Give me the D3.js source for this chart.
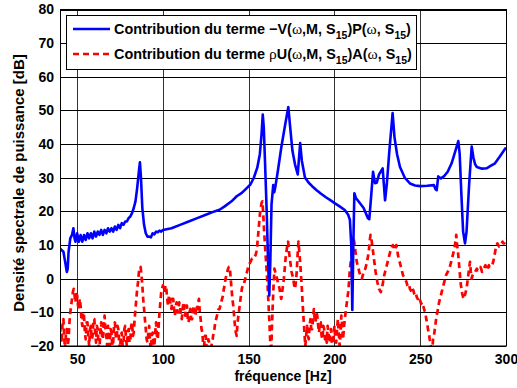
<!DOCTYPE html>
<html><head><meta charset="utf-8">
<script src="https://cdn.jsdelivr.net/npm/d3@7"></script>
<style>body{margin:0;background:#fff}svg{display:block}</style>
</head><body>
<script>
const xTicks = [50,100,150,200,250,300];
const yTicks = [-20,-10,0,10,20,30,40,50,60,70,80];

const blueFreq = [40,41,42,43,44,44.5,45,46,47,47.8,48.5,49,50,51,52,53,54,55,56,57,58,59,60,61,62,63,64,65,66,67,68,69,70,71,72,73,74,75,76,77,78,79,80,81,82,83,84,85,86,86.6,87.2,88,89,90,91,92,93,94,95,96,97,98,99,100,105,110,115,120,125,130,133,136,140,143,146,149,151,153,155,156.5,157.5,158.2,158.8,159.5,160.5,161.3,162,162.6,163.3,164.3,164.9,165.6,167,169,171,173.1,174,175.5,177,178.6,180,181,182.8,185,187,189.6,192,195,198,200.3,203,206,208,209,209.8,210.4,211,211.6,212.5,214.9,217,219.5,220.3,221,222.5,223.6,224.6,226,228.1,228.8,229.5,230.5,232,233.9,235,236.5,238.2,241,244,247,250,254,258,259,259.6,260.5,262,264,266,268.3,270.5,272.2,273,274,275,276.1,277,278.5,280,281,282,283,286,288.7,291,293.6,296,298,300];
const blueDb = [9,8.5,8,5,2,3,8,12,13,15,12,11,13.5,11,13,11,13,11.5,13.5,12,13.5,12,14,12.5,14,13,14.5,13,14.5,13.5,15,14,15,14,15.5,14.5,16,15,16.5,16,17,17,18,18.5,19.5,21,23,27,32,34.6,30,21,16,13.5,12.5,12.5,12.3,13.5,13.2,14,13.8,14.3,14,14.5,15,16,17,18,19,20,20.5,21.5,23,24.5,25.5,27,28,30,33,37,43,48.8,45,35,20,5,-5,5,22,27.8,25.7,27.5,32,39,45,51,46,38,34,31,40.3,35,30.1,28.5,27.5,26.3,25.3,24.2,23.2,22.4,21.5,20.4,19,17.5,10,-9.3,10,25.4,24,22.4,21,18,17.7,22,31.8,28.4,28.5,31,32.8,28,23.3,28,38,49.2,42,37,33.2,30,28.3,27.7,27.5,27.6,27.8,26.5,26.3,30.4,29.8,30.5,31.8,34.3,38,40.9,37,25,14,10.5,14,28,39.3,36,34,33.2,32.7,32.8,33.5,34.3,36,37.5,39];

const redFreq = d3.range(40, 300.5, 0.5);
const redDb = [
-14,-17,-19,-13,-12,-18,-21,-16,-15,-20,
-18,-13,-10,-8,-6,-4,-3,-5,-7,-4,
-5,-8,-9,-6,-8,-12,-14,-10,-11,-16,
-18,-13,-13,-17,-20,-15,-14,-18,-17,-12,
-12,-16,-19,-14,-15,-20,-21,-16,-13,-17,
-18,-14,-11,-15,-17,-20,-14,-18,-20,-15,
-16,-20,-19,-14,-13,-17,-18,-14,-15,-19,
-21,-17,-16,-20,-19,-15,-14,-18,-20,-16,
-15,-19,-18,-14,-13,-17,-16,-12,-9,-6,
-3,-1,2,3,3.5,1,-2,-6,-9,-12,
-15,-18,-19,-16,-14,-19,-21,-17,-16,-20,
-20,-16,-13,-17,-18,-14,-10,-7,-4,-3,
-2,-3,-4,-2,-3,-6,-8,-5,-5,-8,
-9,-6,-6,-9,-11,-8,-7,-10,-10,-7,
-8,-11,-12,-9,-7,-10,-11,-8,-8,-12,
-13,-10,-9,-12,-12,-9,-8,-11,-11,-8,
-9,-7,-6,-10,-12,-15,-16,-20,-20,-17,
-17,-21,-22,-18,-19,-22,-22,-19,-18,-16,
-15,-13,-12,-11,-10,-9,-9,-8,-7,-6,
-5,-3,-2,0,1,2,3,3.5,3.5,0,
-3,-6,-8,-11,-14,-16,-17,-13,-11,-9,
-7,-5,-3,-2,-2,-1,0,1,2,3,
4,4.5,5,5.5,6,6,6.5,6.5,7,8,
10,13,16,19,21,22.5,23,19,14,10,
6,2,-2,-7,-12,-18,-25,-15,-8,-2,
3,2,1,0,-1,-2,-3,-5,-6,-4,
-2,0,3,6,8,10,11,8,6,4,
2,1,0,-2,-3,-1,2,7,11,8,
5,1,-3,-8,-12,-16,-20,-17,-14,-17,
-18,-14,-12,-15,-15,-12,-9,-12,-13,-10,
-11,-14,-16,-13,-13,-17,-18,-14,-15,-18,
-17,-19,-14,-16,-19,-17,-15,-19,-21,-17,
-14,-18,-19,-15,-12,-16,-20,-17,-11,-14,
-18,-15,-12,-10,-8,-6,-4,-1,3,5,
6,9,12,11,9,7,5,4,3,2,
1,0.5,0,1,2,2.5,3,4,5,6.5,
8,11,13,12,10,8,6,4,2,0.5,
-1,-2,-3,-3.5,-4,-3,-2,-0.5,1,2,
3,4,5,6,7,8,9,9.5,10,9.5,
8.5,9,10,9,7,6,5,4,3,2,
1,0.5,0,-0.5,-1,-2,-2.5,-2,-3,-3.5,
-4,-3,-3.5,-4.5,-5,-4.5,-5.5,-6,-6,-5.5,
-6.5,-7.5,-7,-8,-8.5,-9.5,-10,-12,-13,-15,
-16,-18,-19,-21,-21,-18,-17,-15,-13,-11,
-10,-8.5,-7,-6,-5,-4,-3,-2,-1,0,
1,1.5,2,2.5,3,4,5,6,7,8,
9,11,13,10,8,5,2,-1,-3,-4.5,
-5.5,-6,-5,-4,-3,-1,1,3,5,2,
0,1,1.5,2,2,2.5,3,2.5,2.5,3,
3.5,3,2,2.5,3,3.5,4,3,2.5,3.5,
4,3.5,3.5,4,4,5,6,7.5,9,10,
10.5,10,9.5,9.5,10,10.5,11,10.5,10.5,11,
12];

const W = 517, H = 388;
const m = {left: 60, right: 506, top: 9.5, bottom: 346};
const x = d3.scaleLinear().domain([40, 300]).range([m.left, m.right]);
const y = d3.scaleLinear().domain([-20, 80]).range([m.bottom, m.top]);
const FONT = "'Liberation Sans', Arial, Helvetica, sans-serif";

const svg = d3.select("body").append("svg").attr("width", W).attr("height", H)
  .style("font-family", FONT);

svg.append("defs").append("clipPath").attr("id", "clip")
  .append("rect").attr("x", m.left).attr("y", m.top)
  .attr("width", m.right - m.left).attr("height", m.bottom - m.top);

// grid
const grid = svg.append("g");
grid.selectAll(".vx").data(xTicks).join("line")
  .attr("x1", d => Math.round(x(d)) + 0.5).attr("x2", d => Math.round(x(d)) + 0.5)
  .attr("y1", m.top).attr("y2", m.bottom)
  .attr("stroke", "#333").attr("stroke-width", 1);
grid.selectAll(".hy").data(yTicks).join("line")
  .attr("y1", d => Math.round(y(d)) + 0.5).attr("y2", d => Math.round(y(d)) + 0.5)
  .attr("x1", m.left).attr("x2", m.right)
  .attr("stroke", "#000").attr("stroke-width", 1);

// axes
const xAxis = svg.append("g").attr("transform", `translate(0,${m.bottom})`)
  .call(d3.axisBottom(x).tickValues(xTicks).tickSize(0).tickPadding(8));
const yAxis = svg.append("g").attr("transform", `translate(${m.left},0)`)
  .call(d3.axisLeft(y).tickValues(yTicks).tickSize(0).tickPadding(6)
    .tickFormat(d => d < 0 ? "\u2212" + Math.abs(d) : d));
[xAxis, yAxis].forEach(a => {
  a.select(".domain").remove();
  a.selectAll("text").attr("font-size", 14).attr("font-weight", "bold")
    .attr("fill", "#000").style("font-family", FONT);
});

// lines
const line = d3.line().x(d => x(d[0])).y(d => y(d[1]));
const plot = svg.append("g").attr("clip-path", "url(#clip)");
plot.append("path").datum(redFreq.map((f, i) => [f, redDb[i]]))
  .attr("d", line).attr("fill", "none").attr("stroke", "#ff0000")
  .attr("stroke-width", 2.7).attr("stroke-dasharray", "6,4").attr("stroke-linejoin", "round");
plot.append("path").datum(blueFreq.map((f, i) => [f, blueDb[i]]))
  .attr("d", line).attr("fill", "none").attr("stroke", "#0000ff")
  .attr("stroke-width", 2.6).attr("stroke-linejoin", "round");

// frame
svg.append("rect").attr("x", m.left + 0.5).attr("y", m.top)
  .attr("width", m.right - m.left).attr("height", m.bottom - m.top)
  .attr("fill", "none").attr("stroke", "#000").attr("stroke-width", 1);

// legend
const lg = svg.append("g");
lg.append("rect").attr("x", 66.5).attr("y", 15.5).attr("width", 350).attr("height", 54)
  .attr("fill", "#fff").attr("stroke", "#000").attr("stroke-width", 1);
const entries = [
  {color: "#0000ff", dash: null, parts: [["Contribution du terme \u2212V(", 0], ["\u03c9", 1], [",M, S", 0], ["15", 2], [")P(", 0], ["\u03c9", 1], [", S", 0], ["15", 2], [")", 0]]},
  {color: "#ff0000", dash: "6,4", parts: [["Contribution du terme ", 0], ["\u03c1", 1], ["U(", 0], ["\u03c9", 1], [",M, S", 0], ["15", 2], [")A(", 0], ["\u03c9", 1], [", S", 0], ["15", 2], [")", 0]]}
];
entries.forEach((e, i) => {
  const yy = 29 + i * 25;
  lg.append("line").attr("x1", 73).attr("x2", 110).attr("y1", yy).attr("y2", yy)
    .attr("stroke", e.color).attr("stroke-width", 2.6)
    .attr("stroke-dasharray", e.dash);
  const t = lg.append("text").attr("x", 114).attr("y", yy + 5)
    .attr("font-size", 14.4).attr("font-weight", "bold").attr("fill", "#000");
  let prevSub = false;
  e.parts.forEach(p => {
    const ts = t.append("tspan").text(p[0]);
    if (p[1] === 1) ts.style("font-family", "'Liberation Serif', 'Times New Roman', serif").attr("font-weight", "normal").attr("font-size", 15.5);
    if (p[1] === 2) { ts.attr("dy", 4.5).attr("font-size", 10.5); prevSub = true; }
    else if (prevSub) { ts.attr("dy", -4.5); prevSub = false; }
  });
});

// axis labels
svg.append("text").attr("x", 283).attr("y", 381).attr("text-anchor", "middle")
  .attr("font-size", 14).attr("font-weight", "bold").text("fréquence [Hz]");
svg.append("text").attr("transform", `translate(24,183) rotate(-90)`)
  .attr("text-anchor", "middle").attr("font-size", 15).attr("font-weight", "bold")
  .text("Densité spectrale de puissance [dB]");
</script>
</body></html>
